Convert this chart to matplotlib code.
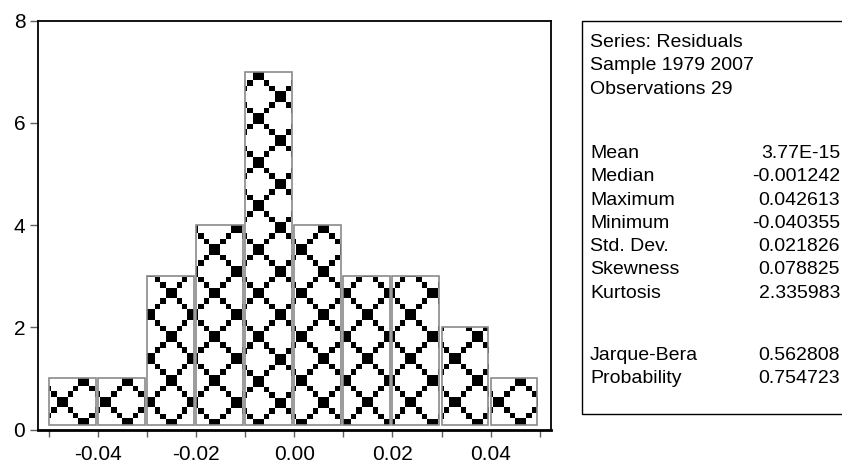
import numpy as np
import matplotlib
matplotlib.use('Agg')
from matplotlib import pyplot as plt
from matplotlib.patches import Rectangle

# histogram data
bin_edges = [-0.05, -0.04, -0.03, -0.02, -0.01, 0.00, 0.01, 0.02, 0.03, 0.04, 0.05]
counts = [1, 1, 3, 4, 7, 4, 3, 3, 2, 1]
x_major = [-0.04, -0.02, 0.00, 0.02, 0.04]
x_minor = [-0.05, -0.03, -0.01, 0.01, 0.03, 0.05]
y_ticks = [0, 2, 4, 6, 8]

# statistics box text
header_lines = ['Series: Residuals', 'Sample 1979 2007', 'Observations 29']
stat_names = ['Mean', 'Median', 'Maximum', 'Minimum', 'Std. Dev.', 'Skewness', 'Kurtosis']
stat_values = ['3.77E-15', '-0.001242', '0.042613', '-0.040355', '0.021826', '0.078825', '2.335983']
test_names = ['Jarque-Bera', 'Probability']
test_values = ['0.562808', '0.754723']

plt.rcParams['font.family'] = ['Liberation Sans', 'DejaVu Sans']
plt.rcParams['axes.unicode_minus'] = False

W, H = 842, 466
fig = plt.figure(figsize=(W / 100, H / 100), dpi=100)
ax = fig.add_axes([37.7 / W, 1 - 429.5 / H, (551 - 37.7) / W, (429.5 - 20.7) / H])


def diamond_texture(w, h, x0=258.3, y0=76.0, step=21.8):
    # scaled-up 8x8 brush: 2x2 block at lattice points, single pixels on the diagonals
    u = step / 4
    img = np.ones((h, w))

    def dot(cx, cy, s):
        xa, xb = int(round(cx - s / 2)), int(round(cx + s / 2))
        ya, yb = int(round(cy - s / 2)), int(round(cy + s / 2))
        xa, xb = max(xa, 0), min(xb, w)
        ya, yb = max(ya, 0), min(yb, h)
        if xa < xb and ya < yb:
            img[ya:yb, xa:xb] = 0

    imin = int(np.floor(-x0 / step)) - 2
    imax = int(np.ceil((w - x0) / step)) + 2
    jmin = int(np.floor(-y0 / step)) - 2
    jmax = int(np.ceil((h - y0) / step)) + 2
    for i in range(imin, imax + 1):
        for j in range(jmin, jmax + 1):
            if (i + j) % 2:
                continue
            cx = x0 + i * step
            cy = y0 + j * step
            dot(cx, cy, 2 * u)
            for t in (1.5, 2.5):
                dot(cx + t * u, cy + t * u, u)
                dot(cx + t * u, cy - t * u, u)
    return img


tex = diamond_texture(W, H)

base = 0.08
heights = [c - base for c in counts]
bars = ax.bar(bin_edges[:-1], heights, width=0.0095, bottom=base, align='edge',
              facecolor='none', edgecolor='#8a8a8a', linewidth=1.2, zorder=3)

for bar in bars:
    im = ax.imshow(tex, cmap='gray', vmin=0, vmax=1, extent=[0, 1, 0, 1],
                   transform=fig.transFigure, interpolation='nearest',
                   aspect='auto', origin='upper', zorder=2)
    im.set_clip_path(bar)

ax.set_xlim(-0.0523, 0.0523)
ax.set_ylim(0, 8)
ax.set_xticks(x_major)
ax.set_xticklabels([f'{v:.2f}' for v in x_major])
ax.set_xticks(x_minor, minor=True)
ax.set_yticks(y_ticks)
ax.set_yticklabels([str(v) for v in y_ticks])

for s in ax.spines.values():
    s.set_linewidth(1.3)
    s.set_color('black')
ax.spines['bottom'].set_linewidth(2.0)

ax.tick_params(axis='x', which='both', direction='out', length=4.7, width=1,
               color='#606060', labelsize=15, pad=6.3)
ax.tick_params(axis='y', which='both', direction='out', length=5.5, width=1,
               color='#606060', labelsize=15, pad=3.4)

# statistics box on the right
box = Rectangle((582 / W, 1 - 414 / H), (W - 582 + 10) / W, (414 - 21) / H,
                transform=fig.transFigure, facecolor='white', edgecolor='black',
                linewidth=1.0, clip_on=False)
fig.add_artist(box)

left_x = 590 / W
right_x = 840 / W


def put_row(y_px, label, value=None):
    fig.text(left_x, 1 - y_px / H, label, fontsize=14, ha='left', va='baseline')
    if value is not None:
        fig.text(right_x, 1 - y_px / H, value, fontsize=14, ha='right', va='baseline')


for k, line in enumerate(header_lines):
    put_row(47 + 23.3 * k, line)
for k, (n, v) in enumerate(zip(stat_names, stat_values)):
    put_row(158 + 23.3 * k, n, v)
for k, (n, v) in enumerate(zip(test_names, test_values)):
    put_row(360 + 23.3 * k, n, v)

fig.savefig('out.png', dpi=100)
